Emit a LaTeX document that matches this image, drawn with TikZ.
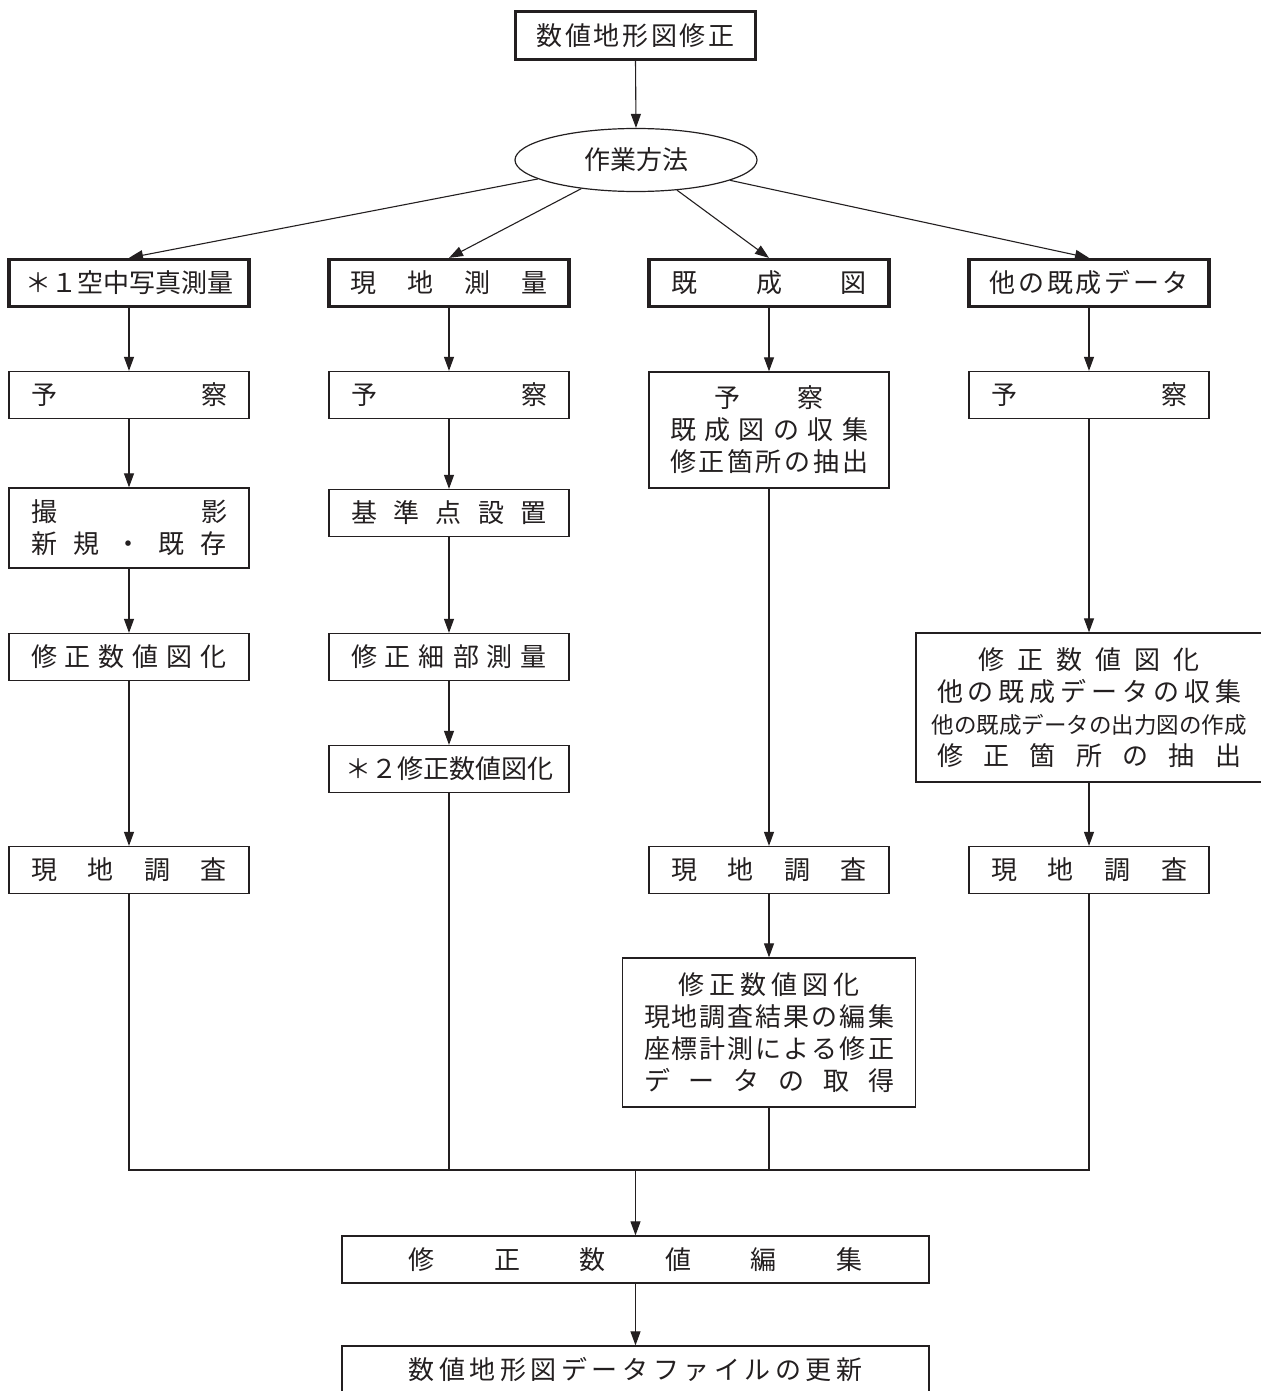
\documentclass[tikz,border=0pt]{standalone}
\usepackage{fontspec}
\newfontfamily\jp{Noto Sans CJK JP}
\usetikzlibrary{arrows.meta,shapes.geometric}
\definecolor{ink}{HTML}{231F20}
\def\spx#1{\ifx#1\relax\else\hfill#1\expandafter\spx\fi}
\def\spfirst#1{#1\spx}
\newcommand\sprd[2]{\makebox[#1pt]{\spfirst#2\relax}}
\begin{document}
\begin{tikzpicture}[x=1pt,y=-1pt,
  every node/.style={font=\jp\fontsize{26}{32}\selectfont, text=ink},
  box/.style={draw=ink, line width=1.3pt, rectangle, inner sep=0pt, minimum width=240pt, minimum height=47pt, align=center},
  mainbox/.style={box, line width=3.2pt},
  arr/.style={draw=ink, line width=1.1pt, -{Triangle[length=14pt,width=10pt]}},
  coll/.style={draw=ink, line width=2.2pt, line join=miter, line cap=rect},
]
\useasboundingbox (0,0) rectangle (1260,1391);
\fill[white] (0,0) rectangle (1260,1391);

% top
\node[mainbox, minimum height=48pt] (top) at (635.5,35.5) {\sprd{198}{数値地形図修正}};
\node[draw=ink, line width=1.2pt, ellipse, inner sep=0pt, minimum width=242pt, minimum height=63pt] (ell) at (636,160) {作業方法};

% row 1
\node[mainbox] (A) at (129,283) {\sprd{208}{＊１空中写真測量}};
\node[mainbox] (B) at (449,283) {\sprd{198}{現地測量}};
\node[mainbox] (C) at (769,283) {\sprd{196}{既成図}};
\node[mainbox] (D) at (1089,283) {\sprd{199}{他の既成データ}};

% column A
\node[box] (yA) at (129,395) {\sprd{196}{予察}};
\node[box, minimum height=80pt] (sA) at (129,528) {\sprd{196}{撮影}\\\sprd{196}{新規・既存}};
\node[box] (zA) at (129,657) {\sprd{196}{修正数値図化}};
\node[box] (gA) at (129,870) {\sprd{196}{現地調査}};

% column B
\node[box] (yB) at (449,395) {\sprd{196}{予察}};
\node[box] (kB) at (449,513) {\sprd{196}{基準点設置}};
\node[box] (bB) at (449,657) {\sprd{196}{修正細部測量}};
\node[box] (s2) at (449,769) {\sprd{206}{＊２修正数値図化}};

% column C
\node[box, minimum height=116pt] (yC) at (769,430) {\sprd{110}{予察}\\\sprd{198}{既成図の収集}\\\sprd{198}{修正箇所の抽出}};
\node[box] (gC) at (769,870) {\sprd{196}{現地調査}};
\node[box, minimum width=293pt, minimum height=149pt] (c2) at (769,1032.5) {\sprd{182}{修正数値図化}\\\sprd{250}{現地調査結果の編集}\\\sprd{250}{座標計測による修正}\\\sprd{250}{データの取得}};

% column D
\node[box] (yD) at (1089,395) {\sprd{196}{予察}};
\node[box, minimum width=346pt, minimum height=149pt] (dD) at (1089,707.5) {\sprd{221}{修正数値図化}\\\sprd{304}{他の既成データの収集}\\{\fontsize{22.5}{32}\selectfont\sprd{304}{他の既成データの出力図の作成}}\\\sprd{304}{修正箇所の抽出}};
\node[box] (gD) at (1089,870) {\sprd{196}{現地調査}};

% bottom
\node[box, minimum width=587pt] (hen) at (635.5,1259.5) {\sprd{454}{修正数値編集}};
\node[box, minimum width=587pt, minimum height=48pt] (upd) at (635.5,1370) {\sprd{454}{数値地形図データファイルの更新}};

\coordinate (cA) at (129,1170);
\coordinate (cB) at (449,1170);
\coordinate (cC) at (769,1170);
\coordinate (cD) at (1089,1170);
\coordinate (cM) at (635.5,1170);

% arrows
\draw[arr] (top.south) -- (ell.north);
\draw[arr] (ell) -- (A.north);
\draw[arr] (ell) -- (B.north);
\draw[arr] (ell) -- (C.north);
\draw[arr] (ell) -- (D.north);

\draw[arr] (A.south) -- (yA.north);
\draw[arr] (yA.south) -- (sA.north);
\draw[arr] (sA.south) -- (zA.north);
\draw[arr] (zA.south) -- (gA.north);

\draw[arr] (B.south) -- (yB.north);
\draw[arr] (yB.south) -- (kB.north);
\draw[arr] (kB.south) -- (bB.north);
\draw[arr] (bB.south) -- (s2.north);

\draw[arr] (C.south) -- (yC.north);
\draw[arr] (yC.south) -- (gC.north);
\draw[arr] (gC.south) -- (c2.north);

\draw[arr] (D.south) -- (yD.north);
\draw[arr] (yD.south) -- (dD.north);
\draw[arr] (dD.south) -- (gD.north);

% collector
\draw[coll] (gA.south) -- (cA) -- (cD) -- (gD.south);
\draw[coll] (s2.south) -- (cB);
\draw[coll] (c2.south) -- (cC);
\draw[arr] (cM) -- (hen.north);
\draw[arr] (hen.south) -- (upd.north);
\end{tikzpicture}
\end{document}
